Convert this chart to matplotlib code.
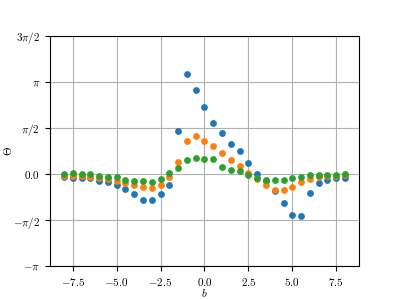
import numpy as np
import matplotlib
matplotlib.use("Agg")
import matplotlib.pyplot as plt

plt.rcParams['mathtext.fontset'] = 'cm'
plt.rcParams['font.family'] = 'serif'
plt.rcParams['font.serif'] = ['DejaVu Serif']

b = np.arange(-8, 8.01, 0.5)

theta_blue = [-0.10, -0.15, -0.15, -0.15, -0.23, -0.27, -0.37, -0.51, -0.68, -0.89, -0.89,
              -0.69, -0.37, 1.47, 3.40, 2.85, 2.28, 1.75, 1.40, 1.03, 0.79, 0.36, 0.00,
              -0.24, -0.58, -0.98, -1.40, -1.43, -0.66, -0.31, -0.19, -0.15, -0.12]
theta_orange = [-0.06, -0.06, -0.07, -0.09, -0.14, -0.17, -0.24, -0.31, -0.39, -0.44, -0.46,
                -0.39, -0.10, 0.41, 1.12, 1.28, 1.14, 0.97, 0.73, 0.49, 0.26, 0.05, -0.18,
                -0.38, -0.53, -0.56, -0.44, -0.26, -0.16, -0.10, -0.08, -0.06, -0.05]
theta_green = [-0.01, 0.02, -0.01, -0.01, -0.07, -0.10, -0.10, -0.19, -0.24, -0.24, -0.26,
               -0.17, 0.02, 0.22, 0.47, 0.56, 0.52, 0.51, 0.25, 0.15, 0.11, -0.04, -0.12,
               -0.19, -0.22, -0.19, -0.14, -0.09, -0.04, -0.04, -0.02, -0.02, 0.01]

yticks = [-np.pi, -np.pi/2, 0, np.pi/2, np.pi, 3*np.pi/2]
yticklabels = [r'$-\pi$', r'$-\pi/2$', r'$0.0$', r'$\pi/2$', r'$\pi$', r'$3\pi/2$']
xticks = [-7.5, -5.0, -2.5, 0.0, 2.5, 5.0, 7.5]

fig, ax = plt.subplots(figsize=(3.99, 2.99), dpi=100)
ax.scatter(b, theta_blue, s=15, color='#1f77b4', zorder=3)
ax.scatter(b, theta_orange, s=15, color='#ff7f0e', zorder=3)
ax.scatter(b, theta_green, s=15, color='#2ca02c', zorder=3)

ax.set_ylim(-np.pi, 3*np.pi/2)
ax.set_yticks(yticks)
ax.set_yticklabels(yticklabels)
ax.set_xticks(xticks)
ax.set_xticklabels([r'$%.1f$' % t for t in xticks])
ax.tick_params(labelsize=8)
ax.grid(True, color='#b0b0b0', linewidth=0.8)
ax.set_axisbelow(True)
ax.set_xlabel(r'$b$', fontsize=8, va='center')
ax.set_ylabel(r'$\Theta$', fontsize=8, va='center')
ax.xaxis.set_label_coords(0.5, -0.115)
ax.yaxis.set_label_coords(-0.135, 0.5)

plt.savefig('out.png', dpi=100)
